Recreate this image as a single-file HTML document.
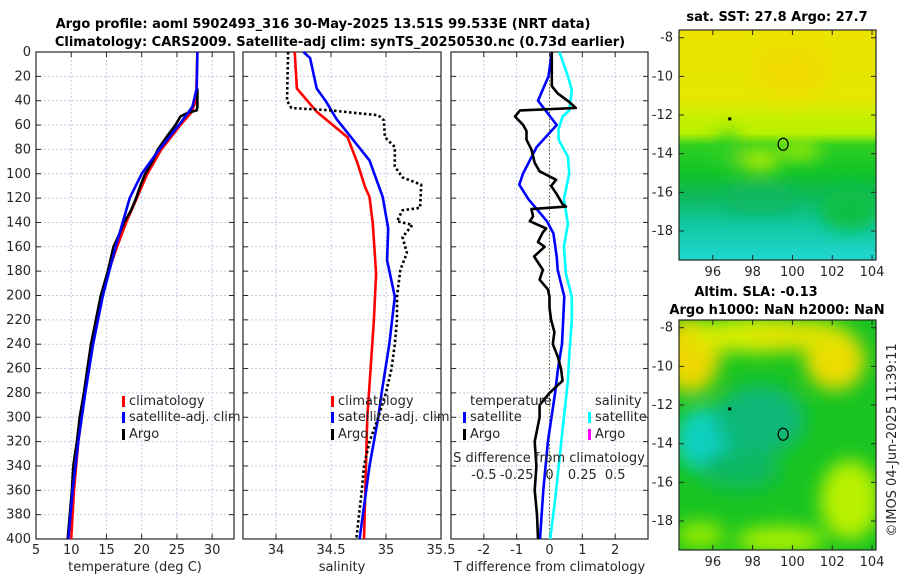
<!DOCTYPE html>
<html><head><meta charset="utf-8"><style>
body{margin:0;background:#fff}
svg{display:block;font-family:"DejaVu Sans","Liberation Sans",sans-serif}
.t{fill:#262626;font-size:13px}
.ttl{fill:#000;font-size:13px;font-weight:bold}
</style></head><body>
<svg id="c" width="900" height="580" viewBox="0 0 900 580">
<defs>
<filter id="bl" x="-50%" y="-50%" width="200%" height="200%"><feGaussianBlur stdDeviation="9"/></filter>
<clipPath id="cm1"><rect x="679" y="30" width="197" height="230"/></clipPath>
<clipPath id="cm2"><rect x="679" y="320" width="197" height="230"/></clipPath>
<linearGradient id="g1" x1="0" y1="0" x2="0" y2="1">
<stop offset="0" stop-color="#ece300"/><stop offset="0.3" stop-color="#e4e800"/><stop offset="0.38" stop-color="#c8ef00"/>
<stop offset="0.45" stop-color="#b8f000"/><stop offset="0.5" stop-color="#30d020"/><stop offset="0.62" stop-color="#10c428"/>
<stop offset="0.72" stop-color="#10b858"/><stop offset="0.84" stop-color="#10c8a0"/><stop offset="1" stop-color="#20d8d0"/>
</linearGradient>
</defs>
<text class="ttl" x="323" y="28" text-anchor="middle">Argo profile: aoml 5902493_316 30-May-2025 13.51S 99.533E (NRT data)</text>
<text class="ttl" x="340" y="46" text-anchor="middle">Climatology: CARS2009. Satellite-adj clim: synTS_20250530.nc (0.73d earlier)</text>
<g id="plots"></g>
<g id="maps">
<g clip-path="url(#cm1)">
<rect x="679" y="30" width="197" height="230" fill="url(#g1)"/>
<g filter="url(#bl)">
<ellipse cx="728" cy="150" rx="10" ry="20" fill="#30d020"/>
<ellipse cx="760" cy="160" rx="20" ry="10" fill="#c0ef00"/>
<ellipse cx="800" cy="150" rx="20" ry="8" fill="#b8f000"/>
<ellipse cx="790" cy="70" rx="40" ry="25" fill="#f0dc00"/>
<ellipse cx="850" cy="210" rx="30" ry="20" fill="#10c040"/>
<ellipse cx="760" cy="200" rx="40" ry="12" fill="#10b860"/>
</g>
</g>
<g clip-path="url(#cm2)">
<rect x="679" y="320" width="197" height="230" fill="#18c420"/>
<g filter="url(#bl)">
<ellipse cx="690" cy="355" rx="30" ry="38" fill="#ecd800"/>
<ellipse cx="760" cy="335" rx="70" ry="18" fill="#d8ee00"/>
<ellipse cx="835" cy="360" rx="30" ry="30" fill="#ecdc00"/>
<ellipse cx="800" cy="335" rx="50" ry="15" fill="#e0e400"/>
<ellipse cx="705" cy="440" rx="30" ry="32" fill="#10d0c0"/>
<ellipse cx="760" cy="420" rx="45" ry="35" fill="#10b878"/>
<ellipse cx="740" cy="470" rx="40" ry="20" fill="#10b860"/>
<ellipse cx="850" cy="500" rx="30" ry="40" fill="#b8f000"/>
<ellipse cx="780" cy="540" rx="45" ry="14" fill="#a8f000"/>
<ellipse cx="700" cy="535" rx="25" ry="14" fill="#90e800"/>
</g>
</g>
</g>
<text class="ttl" x="777" y="21" text-anchor="middle" font-size="12">sat. SST: 27.8 Argo: 27.7</text>
<text class="ttl" x="756" y="296" text-anchor="middle" font-size="12">Altim. SLA: -0.13</text>
<text class="ttl" x="777" y="314" text-anchor="middle" font-size="12">Argo h1000: NaN h2000: NaN</text>
<text class="t" font-size="12" transform="translate(896,440) rotate(-90)" text-anchor="middle">©IMOS 04-Jun-2025 11:39:11</text>
</svg>
<script>
// ---------- data ----------
const depthTicks=[0,20,40,60,80,100,120,140,160,180,200,220,240,260,280,300,320,340,360,380,400];
const tempTicks=[5,10,15,20,25,30];
const salTicks=[34,34.5,35,35.5];
const salTickLabels=["34","34.5","35","35.5"];
const diffTicks=[-3,-2,-1,0,1,2];
const diffTickLabels=["","-2","-1","0","1","2"];
const sdiffTicks=[-0.5,-0.25,0,0.25,0.5];
const sdiffTickLabels=["-0.5","-0.25","0","0.25","0.5"];
const lonTicks=[96,98,100,102,104];
const latTicks=[-8,-10,-12,-14,-16,-18];

const tClimD=[0,40,50,60,80,100,120,140,160,180,200,240,280,320,360,400];
const tClimV=[27.9,27.7,27.0,25.5,22.8,20.8,19.3,17.8,16.5,15.3,14.3,13.0,11.9,11.0,10.4,10.0];
const tSatD=[0,30,45,60,80,100,120,140,160,200,240,280,320,360,400];
const tSatV=[27.9,27.8,27.2,25.3,22.5,20.0,18.3,17.3,16.3,14.5,13.1,12.0,11.0,10.2,9.6];
const tArgoD=[30,45,48,50,53,60,70,80,90,100,110,120,130,140,150,160,180,200,220,240,260,280,300,320,340,360,380,400];
const tArgoV=[27.9,27.9,27.8,26.5,25.5,24.8,23.5,22.3,21.5,20.5,19.8,19.2,18.5,17.5,16.8,16.0,15.2,14.2,13.5,12.8,12.3,11.8,11.2,10.8,10.3,10.1,9.8,9.5];

const sClimD=[0,30,49,70,91,111,119,141,182,220,260,300,400];
const sClimV=[34.17,34.19,34.37,34.65,34.74,34.81,34.85,34.88,34.91,34.89,34.86,34.83,34.80];
const sSatD=[0,5,30,40,55,72,89,119,145,171,201,240,280,300,340,400];
const sSatV=[34.25,34.31,34.37,34.45,34.55,34.70,34.85,34.97,35.02,35.01,35.08,35.03,34.96,34.93,34.85,34.76];
const sArgoD=[0,40,46,48,52,56,70,78,94,103,109,128,130,139,142,152,165,179,201,220,240,260,280,300,320,340,360,400];
const sArgoV=[34.11,34.10,34.14,34.50,34.93,34.98,34.99,35.08,35.08,35.15,35.32,35.31,35.15,35.10,35.24,35.15,35.19,35.13,35.10,35.10,35.08,35.05,35.00,34.93,34.85,34.80,34.78,34.73];

const dTSatD=[0,20,40,60,78,100,109,121,139,149,168,179,201,240,260,280,320,360,400];
const dTSatV=[0.07,-0.03,-0.35,0.22,-0.39,-0.81,-0.92,-0.64,-0.08,0.12,0.22,0.25,0.45,0.38,0.26,0.17,-0.05,-0.19,-0.29];
const dSSatD=[0,20,31,48,53,64,72,86,100,121,141,160,182,201,220,250,270,300,340,370,400];
const dSSatV=[0.075,0.14,0.17,0.15,0.10,0.068,0.07,0.14,0.15,0.11,0.14,0.11,0.125,0.17,0.17,0.15,0.14,0.11,0.07,0.04,0.005];
const dTArgoD=[0,28,34,41,46,48,53,60,65,72,80,91,98,105,110,116,125,127,129,135,139,145,148,156,160,168,179,187,195,201,210,220,230,240,250,260,270,280,290,300,320,340,360,380,400];
const dTArgoV=[0.07,0.07,0.25,0.6,0.8,-0.9,-1.05,-0.8,-0.7,-0.7,-0.55,-0.45,-0.3,0.2,0.05,0.2,0.4,0.5,-0.55,-0.5,-0.6,-0.1,-0.2,-0.35,-0.15,-0.47,-0.2,-0.3,-0.05,0.0,0.0,0.05,0.15,0.1,0.25,0.35,0.4,0.0,-0.3,-0.3,-0.45,-0.4,-0.45,-0.38,-0.35];

// ---------- axes ----------
const Y0=52,Y1=539,DMAX=400;
const yD=d=>Y0+d/DMAX*(Y1-Y0);
function lin(v0,v1,p0,p1){return v=>p0+(v-v0)/(v1-v0)*(p1-p0);}
const xT=lin(5,33.1,36,234);
const xS=lin(33.7,35.5,243,441);
const xDf=lin(-3,3,451,648);
const xSd=s=>xDf(s*4);
const NS="http://www.w3.org/2000/svg";
const root=document.getElementById('plots');
function mk(tag,attrs,parent){const e=document.createElementNS(NS,tag);for(const k in attrs)e.setAttribute(k,attrs[k]);(parent||root).appendChild(e);return e;}
function txt(x,y,s,anchor,parent,cls){const e=mk('text',{x:x,y:y,'text-anchor':anchor||'middle','class':cls||'t'},parent);e.textContent=s;return e;}

function panel(name,L,R,xs,xt,xlabels,ylabels,xtitle){
  const g=mk('g',{});
  
  
  depthTicks.forEach(d=>{mk('line',{x1:L,x2:R,y1:yD(d),y2:yD(d),stroke:'#c4cce4','stroke-width':1,'stroke-dasharray':'2,2'},g);});
  xt.forEach(v=>{const x=xs(v);if(x>L+1&&x<R-1)mk('line',{x1:x,x2:x,y1:Y0,y2:Y1,stroke:'#c4cce4','stroke-width':1,'stroke-dasharray':'2,2'},g);});
  mk('rect',{x:L,y:Y0,width:R-L,height:Y1-Y0,fill:'none',stroke:'#262626','stroke-width':1.2},g);
  depthTicks.forEach(d=>{const y=yD(d);mk('line',{x1:L,x2:L+5,y1:y,y2:y,stroke:'#262626'},g);mk('line',{x1:R-5,x2:R,y1:y,y2:y,stroke:'#262626'},g);
    if(ylabels){const t=txt(L-5,y+4,String(d),'end',g);}});
  xt.forEach((v,i)=>{const x=xs(v);mk('line',{x1:x,x2:x,y1:Y1-5,y2:Y1,stroke:'#262626'},g);mk('line',{x1:x,x2:x,y1:Y0,y2:Y0+5,stroke:'#262626'},g);
    if(xlabels[i]){const t=txt(x,Y1+15,xlabels[i],'middle',g);}});
  const tt=txt((L+R)/2,Y1+32,xtitle,'middle',g);tt.setAttribute('font-size','13');
  
  
  return g;
}
function series(g,ds,vs,xs,color,name,dash){
  const p=ds.map((d,i)=>xs(vs[i]).toFixed(1)+','+yD(d).toFixed(1)).join(' ');
  const e=mk('polyline',{points:p,fill:'none',stroke:color,'stroke-width':2.6,'stroke-linejoin':'round'},g);
  if(dash)e.setAttribute('stroke-dasharray',dash);
  
  
}
function legend(g,x,y,color,label){
  mk('rect',{x:x,y:y-9,width:3,height:11,fill:color},g);
  const t=txt(x+7,y,label,'start',g);t.setAttribute('font-size','13');
  
  
}
// temperature
const g1=panel('temperature',36,234,xT,tempTicks,tempTicks.map(String),true,'temperature (deg C)');
series(g1,tClimD,tClimV,xT,'#ff0000','temp-climatology-line');
series(g1,tArgoD,tArgoV,xT,'#000000','temp-argo-line');
series(g1,tSatD,tSatV,xT,'#0000ff','temp-satellite-line');
legend(g1,122,405,'#ff0000','climatology');legend(g1,122,421,'#0000ff','satellite-adj. clim');legend(g1,122,438,'#000000','Argo');
// salinity
const g2=panel('salinity',243,441,xS,salTicks,salTickLabels,false,'salinity');
series(g2,sClimD,sClimV,xS,'#ff0000','sal-climatology-line');
series(g2,sSatD,sSatV,xS,'#0000ff','sal-satellite-line');
series(g2,sArgoD,sArgoV,xS,'#000000','sal-argo-line','2.5,2.5');
legend(g2,331,405,'#ff0000','climatology');legend(g2,331,421,'#0000ff','satellite-adj. clim');legend(g2,331,438,'#000000','Argo');
// difference
const g3=panel('difference',451,648,xDf,diffTicks,diffTickLabels,false,'T difference from climatology');
mk('line',{x1:xDf(0),x2:xDf(0),y1:Y0,y2:Y1,stroke:'#556b2f','stroke-width':1,'stroke-dasharray':'1.5,2'},g3);
series(g3,dSSatD,dSSatV,xSd,'#00ffff','sdiff-satellite-line');
series(g3,dTSatD,dTSatV,xDf,'#0000ff','tdiff-satellite-line');
series(g3,dTArgoD,dTArgoV,xDf,'#000000','tdiff-argo-line');
txt(470,405,'temperature','start',g3).setAttribute('font-size','13');
txt(595,405,'salinity','start',g3).setAttribute('font-size','13');
legend(g3,463,421,'#0000ff','satellite');legend(g3,463,438,'#000000','Argo');
legend(g3,588,421,'#00ffff','satellite');legend(g3,588,438,'#ff00ff','Argo');
const st=txt(549,462,'S difference from climatology','middle',g3);st.setAttribute('font-size','13');


sdiffTicks.forEach((v,i)=>{const t=txt(xSd(v),479,sdiffTickLabels[i],'middle',g3);t.setAttribute('font-size','13');
  
  });

// map axes
const mapLon=lin(94.3,104.2,679,876);
function mapAxes(top,latTop,latBot,name){
  const g=mk('g',{},document.getElementById('maps'));
  
  
  const yl=lin(latTop,latBot,top,top+230);
  mk('rect',{x:679,y:top,width:197,height:230,fill:'none',stroke:'#262626','stroke-width':1.2},g);
  latTicks.forEach(v=>{const y=yl(v);mk('line',{x1:679,x2:684,y1:y,y2:y,stroke:'#262626'},g);mk('line',{x1:871,x2:876,y1:y,y2:y,stroke:'#262626'},g);
    txt(673,y+4,String(v),'end',g);});
  lonTicks.forEach(v=>{const x=mapLon(v);mk('line',{x1:x,x2:x,y1:top+225,y2:top+230,stroke:'#262626'},g);mk('line',{x1:x,x2:x,y1:top,y2:top+5,stroke:'#262626'},g);
    txt(x,top+246,String(v),'middle',g);});
  const c=mk('ellipse',{cx:mapLon(99.533),cy:yl(-13.51),rx:5,ry:6,fill:'none',stroke:'#000','stroke-width':1.2},g);
  
  
  mk('rect',{x:mapLon(96.85)-1.5,y:yl(-12.2)-1.5,width:3,height:3,fill:'#000'},g);
}
mapAxes(30,-7.6,-19.5,'sst-map');
mapAxes(320,-7.6,-19.5,'sla-map');
</script>
</body></html>
